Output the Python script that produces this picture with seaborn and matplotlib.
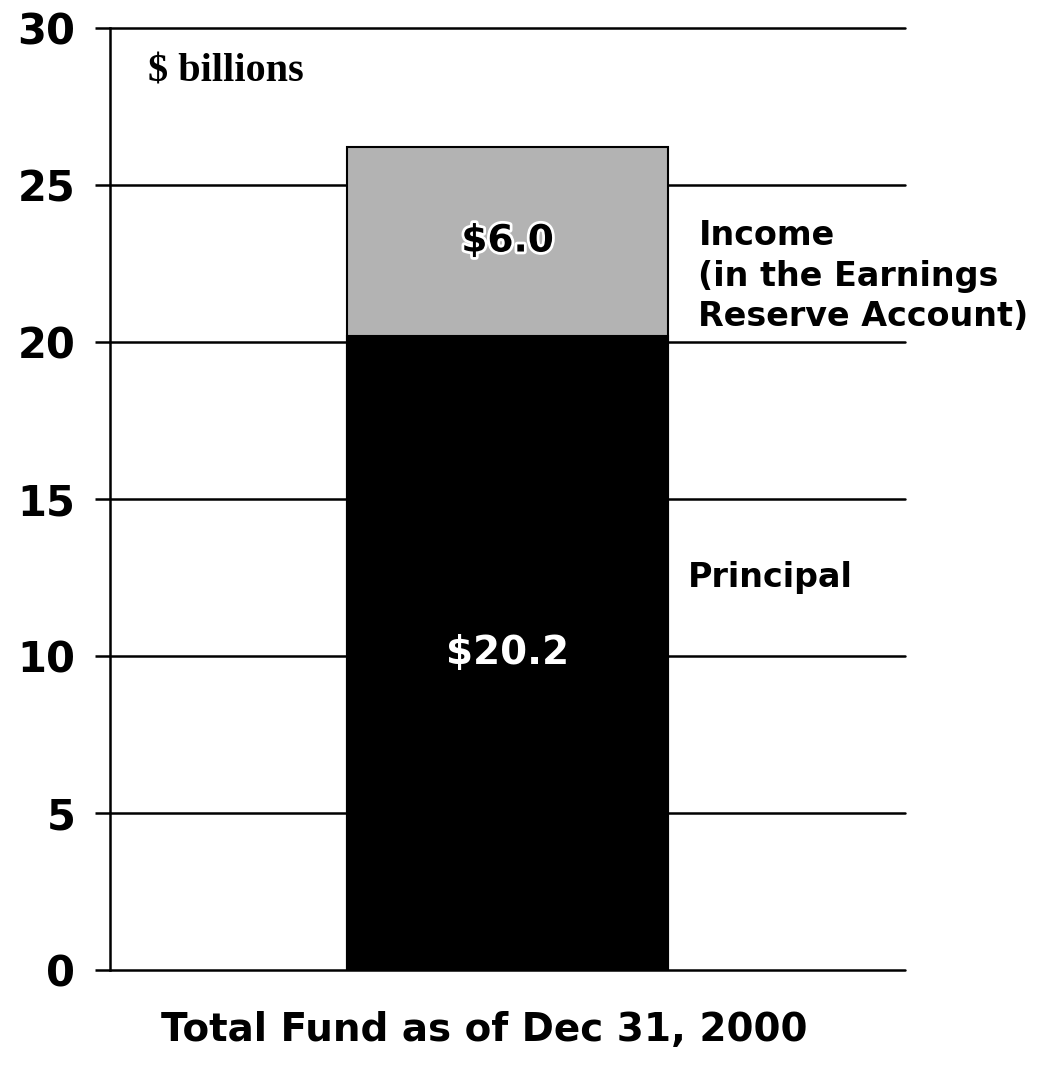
import matplotlib
matplotlib.use('Agg')
import matplotlib.pyplot as plt
import matplotlib.patheffects as pe
import seaborn as sns
import pandas as pd

categories = ['Total Fund as of Dec 31, 2000']
principal = [20.2]
income = [6.0]
segment_names = ['Principal', 'Income\n(in the Earnings\nReserve Account)']

sns.set_style('white')
plt.rcParams['font.family'] = ['DejaVu Sans']
plt.rcParams['text.color'] = 'black'

total = [p + i for p, i in zip(principal, income)]
df = pd.DataFrame({'fund': categories, 'principal': principal,
                   'income': income, 'total': total})

fig = plt.figure(figsize=(10.44, 10.69), dpi=100)
ax = fig.add_axes([0.1054, 0.0926, 0.7616, 0.8812])

# stacked bar: total in gray, principal drawn over it in black
sns.barplot(data=df, x='fund', y='total', color='#b3b3b3', width=0.404,
            edgecolor='black', linewidth=1.5, saturation=1, ax=ax, zorder=3)
sns.barplot(data=df, x='fund', y='principal', color='black', width=0.404,
            edgecolor='black', linewidth=1.5, saturation=1, ax=ax, zorder=4)

ax.set_xlim(-0.5, 0.5)
ax.set_ylim(0, 30)
ax.set_yticks(range(0, 31, 5))
ax.yaxis.grid(True, color='black', linewidth=1.8, zorder=1)
ax.set_axisbelow(True)
ax.tick_params(axis='y', direction='out', length=11, width=1.8, pad=14,
               labelsize=30, left=True, colors='black')
for lab in ax.get_yticklabels():
    lab.set_fontweight('bold')
for gl in ax.get_ygridlines():
    gl.set_clip_on(False)
ax.set_xticks([])
ax.set_xlabel('')
ax.set_ylabel('')
for s in ['top', 'right', 'bottom']:
    ax.spines[s].set_visible(False)
ax.spines['left'].set_color('black')
ax.spines['left'].set_linewidth(1.8)

# value labels
for i in range(len(categories)):
    ax.text(i, principal[i] / 2, f'${principal[i]:.1f}', color='white',
            ha='center', va='center', fontsize=28, fontweight='bold', zorder=6)
    ax.text(i, principal[i] + income[i] / 2, f'${income[i]:.1f}', color='black',
            ha='center', va='center', fontsize=27, fontweight='bold', zorder=6,
            path_effects=[pe.withStroke(linewidth=4, foreground='white')])

# segment names to the right of the bar
ax.text(0.24, 22.1, segment_names[1], ha='left', va='center', fontsize=24,
        fontweight='bold', linespacing=1.3, clip_on=False)
ax.text(0.227, 12.5, segment_names[0], ha='left', va='center', fontsize=24,
        fontweight='bold')

ax.text(0.048, 0.953, '$ billions', transform=ax.transAxes, ha='left', va='center',
        fontsize=29, fontweight='bold', family='Liberation Serif')

fig.text(484 / 1044, 1 - 1030 / 1069, categories[0], ha='center', va='center',
         fontsize=28, fontweight='bold')

fig.savefig('out.png', dpi=100)
